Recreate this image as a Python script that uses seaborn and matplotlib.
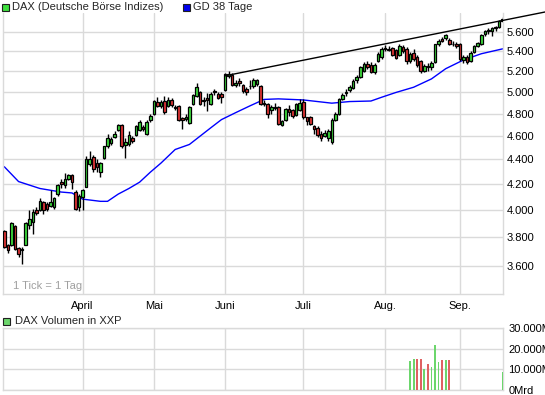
import numpy as np
import pandas as pd
import matplotlib
matplotlib.use("Agg")
import matplotlib.pyplot as plt
from matplotlib.patches import Rectangle
from matplotlib.ticker import NullLocator, FixedLocator, FixedFormatter
import seaborn as sns

# ---------------- data ----------------
months = ["April", "Mai", "Juni", "Juli", "Aug.", "Sep."]
month_idx = [22, 42, 62, 84, 107, 128]

opens = [3843, 3740, 3740, 3880, 3722, 3705, 3745, 3890, 3910, 4000,
         4000, 4058, 4044, 4030, 4020, 4120, 4220, 4190, 4238, 4270,
         4140, 4020, 4095, 4180, 4365, 4420, 4375, 4300, 4410, 4515,
         4540, 4590, 4650, 4700, 4520, 4530, 4580, 4613, 4650, 4680,
         4620, 4740, 4800, 4910, 4870, 4915, 4870, 4920, 4860, 4870,
         4760, 4750, 4715, 4890, 4960, 5000, 4920, 4940, 4890, 5000,
         4980, 4980, 5020, 5150, 5165, 5070, 5105, 5070, 5030, 5055,
         5055, 5080, 5060, 4900, 4890, 4830, 4860, 4860, 4700, 4740,
         4840, 4830, 4790, 4830, 4910, 4765, 4770, 4690, 4670, 4620,
         4600, 4585, 4550, 4740, 4800, 4935, 4990, 5020, 5040, 5110,
         5140, 5200, 5270, 5260, 5190, 5300, 5340, 5425, 5420, 5430,
         5410, 5360, 5440, 5420, 5300, 5380, 5340, 5300, 5200, 5240,
         5240, 5290, 5470, 5530, 5540, 5520, 5480, 5480, 5480, 5310,
         5340, 5300, 5390, 5450, 5470, 5580, 5610, 5610, 5640, 5650, 5720]
highs = [3850, 3750, 3910, 3890, 3730, 3730, 3910, 4000, 4006, 4020,
         4090, 4070, 4060, 4150, 4100, 4200, 4240, 4290, 4280, 4280,
         4150, 4120, 4160, 4430, 4470, 4440, 4400, 4380, 4515, 4620,
         4590, 4640, 4710, 4710, 4580, 4640, 4600, 4700, 4740, 4700,
         4740, 4800, 4920, 4950, 4920, 4960, 4950, 4940, 4880, 4880,
         4770, 4800, 4870, 4980, 5090, 5010, 4950, 4990, 5000, 5030,
         5000, 5000, 5180, 5200, 5180, 5110, 5130, 5080, 5050, 5110,
         5130, 5120, 5070, 4920, 4900, 4880, 4900, 4870, 4740, 4850,
         4880, 4840, 4900, 4930, 4930, 4770, 4780, 4700, 4690, 4640,
         4650, 4660, 4760, 4810, 4940, 4990, 5030, 5070, 5120, 5160,
         5250, 5290, 5300, 5290, 5280, 5390, 5440, 5460, 5450, 5440,
         5420, 5470, 5460, 5440, 5390, 5420, 5360, 5310, 5270, 5280,
         5300, 5480, 5530, 5550, 5580, 5540, 5510, 5500, 5490, 5360,
         5360, 5400, 5460, 5500, 5580, 5620, 5640, 5650, 5660, 5730, 5760]
lows = [3720, 3685, 3735, 3705, 3660, 3613, 3740, 3858, 3822, 3960,
        3990, 3965, 3990, 4020, 4010, 4110, 4170, 4170, 4230, 4160,
        4000, 3995, 4000, 4175, 4350, 4300, 4300, 4260, 4400, 4500,
        4520, 4580, 4640, 4500, 4410, 4510, 4540, 4600, 4640, 4640,
        4610, 4720, 4790, 4860, 4850, 4800, 4860, 4860, 4830, 4730,
        4665, 4730, 4710, 4880, 4950, 4880, 4870, 4820, 4880, 4970,
        4930, 4900, 5010, 5130, 5060, 5050, 5060, 4990, 4970, 5030,
        5040, 5060, 4880, 4870, 4760, 4800, 4830, 4700, 4690, 4730,
        4780, 4760, 4780, 4820, 4750, 4700, 4700, 4620, 4595, 4560,
        4590, 4560, 4530, 4730, 4790, 4920, 4960, 5000, 5030, 5090,
        5130, 5190, 5220, 5180, 5170, 5290, 5320, 5400, 5400, 5350,
        5320, 5350, 5380, 5270, 5280, 5300, 5240, 5180, 5190, 5200,
        5210, 5280, 5450, 5500, 5520, 5460, 5450, 5430, 5300, 5280,
        5270, 5290, 5380, 5440, 5460, 5560, 5580, 5560, 5610, 5640, 5710]
closes = [3730, 3710, 3905, 3715, 3682, 3716, 3905, 3935, 3985, 3975,
          4065, 3998, 4006, 4058, 4090, 4190, 4200, 4238, 4270, 4220,
          4006, 4110, 4150, 4400, 4400, 4320, 4340, 4375, 4510, 4580,
          4570, 4620, 4700, 4510, 4545, 4610, 4555, 4690, 4720, 4660,
          4720, 4780, 4915, 4870, 4905, 4810, 4927, 4880, 4850, 4740,
          4745, 4770, 4860, 4973, 5045, 4890, 4915, 4920, 4985, 5010,
          4945, 4950, 5170, 5170, 5070, 5090, 5085, 5010, 5000, 5060,
          5115, 5110, 4890, 4890, 4800, 4860, 4855, 4710, 4730, 4840,
          4810, 4780, 4890, 4900, 4765, 4735, 4710, 4660, 4605, 4580,
          4630, 4640, 4740, 4800, 4930, 4975, 4995, 5050, 5100, 5140,
          5240, 5270, 5240, 5190, 5260, 5370, 5420, 5435, 5410, 5360,
          5330, 5450, 5400, 5300, 5370, 5320, 5260, 5200, 5250, 5250,
          5280, 5470, 5510, 5510, 5570, 5480, 5475, 5450, 5320, 5345,
          5290, 5380, 5450, 5490, 5570, 5610, 5620, 5640, 5650, 5720, 5745]

# GD 38 Tage
ma_idx = [0, 4, 10, 16, 19, 22, 27, 29, 32, 35, 38, 41, 44, 48, 52, 58, 61,
          65, 69, 73, 77, 84, 88, 92, 97, 103, 106, 110, 115, 120, 124, 129,
          134, 140]
ma_val = [4340, 4220, 4165, 4137, 4130, 4082, 4065, 4065, 4121, 4165, 4215,
          4295, 4370, 4484, 4527, 4672, 4745, 4808, 4870, 4930, 4935, 4925,
          4910, 4895, 4910, 4915, 4950, 4995, 5045, 5125, 5225, 5312, 5375,
          5425]

# trend line (two end points)
trend_idx = [62, 151.9]
trend_val = [5155, 5817]

# volume (millions)
vol_idx = [114, 115, 116, 117, 118, 119, 120, 121, 122, 123, 124, 125, 140]
vol_val = [14, 15, 15, 15, 10.3, 12.5, 11.3, 21.7, 13.5, 14.7, 14.7, 14.5, 8.6]
vol_up = [1, 1, 0, 0, 1, 0, 1, 1, 1, 0, 1, 0, 1]

price_ticks = [3600, 3800, 4000, 4200, 4400, 4600, 4800, 5000, 5200, 5400, 5600]
price_labels = ["3.600", "3.800", "4.000", "4.200", "4.400", "4.600",
                "4.800", "5.000", "5.200", "5.400", "5.600"]
vol_ticks = [0, 10, 20, 30]
vol_labels = ["0Mrd", "10.000M", "20.000M", "30.000M"]

# ---------------- styling ----------------
sns.set_theme(style="white")
plt.rcParams['font.family'] = ['Liberation Sans', 'DejaVu Sans']

GRID = "#dadada"
GREEN = "#3ee03e"
RED = "#e33535"
VGREEN = "#6cd66c"
VRED = "#df6262"
FS = 8

W, H = 545, 395
fig = plt.figure(figsize=(W / 100, H / 100), dpi=100)
fig.patch.set_facecolor("white")


def rect(l, t, r, b):
    return [l / W, 1 - b / H, (r - l) / W, (b - t) / H]


ax = fig.add_axes(rect(3, 13, 503, 294))
axv = fig.add_axes(rect(3, 328, 503, 390))

df = pd.DataFrame({"i": np.arange(len(closes)), "o": opens, "h": highs,
                   "l": lows, "c": closes})
df["up"] = df["c"] >= df["o"]
df["bot"] = df[["o", "c"]].min(axis=1)
df["ht"] = (df["c"] - df["o"]).abs().clip(lower=2)

ax.set_yscale("log")
ax.set_ylim(3411, 5806)
ax.set_xlim(-0.37, 140.1)

# wicks and bodies
ax.vlines(df["i"], df["l"], df["h"], color="black", lw=1.0, zorder=3)
ax.bar(df["i"], df["ht"], bottom=df["bot"], width=0.72,
       color=np.where(df["up"], GREEN, RED), edgecolor="black",
       linewidth=0.9, zorder=4)

# moving average
sns.lineplot(x=ma_idx, y=ma_val, ax=ax, color="#0000ff", lw=1.0, zorder=2)
# trend line
sns.lineplot(x=trend_idx, y=trend_val, ax=ax, color="black", lw=1.0,
             zorder=5, clip_on=False)

ax.yaxis.set_major_locator(FixedLocator(price_ticks))
ax.yaxis.set_major_formatter(FixedFormatter(price_labels))
ax.yaxis.set_minor_locator(NullLocator())
ax.yaxis.tick_right()
ax.set_xticks(month_idx)
ax.set_xticklabels(months)
ax.tick_params(axis="both", length=0, labelsize=FS, colors="black")
ax.tick_params(axis="y", pad=2.5)
ax.tick_params(axis="x", pad=5)
ax.grid(True, color=GRID, lw=1.0, zorder=0)
ax.set_axisbelow(True)
for s in ["left", "right", "bottom"]:
    ax.spines[s].set_color(GRID)
    ax.spines[s].set_linewidth(1.0)
ax.spines["top"].set_visible(False)
ax.set_xlabel("")
ax.set_ylabel("")

ax.text(10 / 500, 1 - (286 - 13) / 281, "1 Tick = 1 Tag", transform=ax.transAxes,
        fontsize=FS, color="#a0a0a0", va="center", ha="left")

# volume panel
axv.set_xlim(-0.37, 140.1)
axv.set_ylim(0, 30)
axv.bar(vol_idx, vol_val, width=0.5,
        color=[VGREEN if u else VRED for u in vol_up], linewidth=0, zorder=3)
axv.set_xticks(month_idx)
axv.set_xticklabels([])
axv.set_yticks(vol_ticks)
axv.set_yticklabels(vol_labels)
axv.yaxis.tick_right()
axv.tick_params(axis="both", length=0, labelsize=FS, colors="black")
axv.tick_params(axis="y", pad=4)
axv.grid(True, color=GRID, lw=1.0, zorder=0)
axv.set_axisbelow(True)
for s in axv.spines.values():
    s.set_color(GRID)
    s.set_linewidth(1.0)

# legends


def square(x, y, color):
    fig.add_artist(Rectangle((x / W, 1 - (y + 7) / H), 7 / W, 7 / H,
                             transform=fig.transFigure, facecolor=color,
                             edgecolor="#202020", lw=0.8))


square(2, 4, GREEN)
fig.text(12 / W, 1 - 7.5 / H, "DAX (Deutsche Börse Indizes)", fontsize=FS,
         va="center", ha="left")
square(183, 4, "#0000ee")
fig.text(193 / W, 1 - 7.5 / H, "GD 38 Tage", fontsize=FS, va="center", ha="left")
square(3, 317.5, VGREEN)
fig.text(15 / W, 1 - 321 / H, "DAX Volumen in XXP", fontsize=FS,
         va="center", ha="left")

fig.savefig("out.png", dpi=100, facecolor="white")
